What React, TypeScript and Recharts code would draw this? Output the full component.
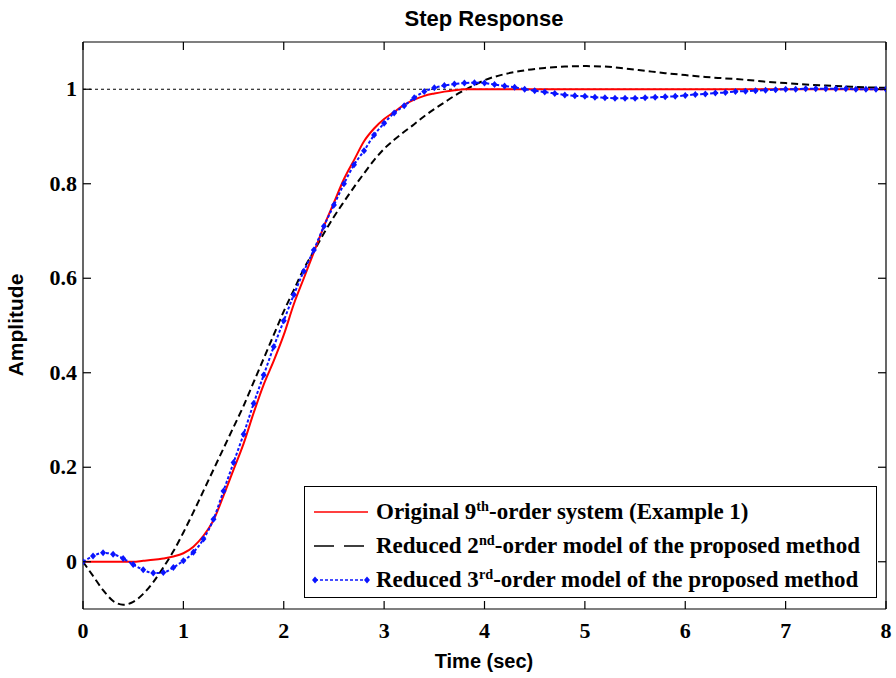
import { LineChart, Line, XAxis, YAxis, ReferenceLine, Label } from "recharts";

// axis ticks
const xTicks = [0, 1, 2, 3, 4, 5, 6, 7, 8];
const yTicks = [0, 0.2, 0.4, 0.6, 0.8, 1];

// original 9th-order system (red)
const redTime = [0, 0.5, 0.6, 0.7, 0.8, 0.9, 1.0, 1.1, 1.2, 1.3, 1.4, 1.5, 1.6, 1.7, 1.8, 1.9, 2.0, 2.1, 2.2, 2.3, 2.4, 2.5, 2.6, 2.7, 2.8, 2.9, 3.0, 3.1, 3.2, 3.3, 3.4, 3.5, 3.6, 3.7, 3.8, 4.0, 5.0, 6.0, 7.0, 8.0];
const redValue = [0, 0, 0.002, 0.004, 0.007, 0.011, 0.018, 0.032, 0.055, 0.088, 0.14, 0.195, 0.25, 0.315, 0.375, 0.425, 0.48, 0.545, 0.6, 0.655, 0.71, 0.76, 0.81, 0.85, 0.89, 0.917, 0.937, 0.952, 0.967, 0.978, 0.986, 0.991, 0.995, 0.998, 1.0, 1.0, 1.0, 1.0, 1.0, 1.0];

// reduced 2nd-order model (black dashed)
const blackTime = [0, 0.1, 0.2, 0.3, 0.4, 0.5, 0.6, 0.7, 0.8, 0.9, 1.0, 1.1, 1.2, 1.3, 1.4, 1.5, 1.6, 1.7, 1.8, 1.9, 2.0, 2.1, 2.2, 2.3, 2.4, 2.5, 2.6, 2.7, 2.8, 2.9, 3.0, 3.1, 3.2, 3.3, 3.4, 3.5, 3.6, 3.7, 3.8, 3.9, 4.0, 4.2, 4.4, 4.6, 4.8, 5.0, 5.2, 5.4, 5.6, 5.8, 6.0, 6.2, 6.4, 6.6, 6.8, 7.0, 7.2, 7.4, 7.6, 7.8, 8.0];
const blackValue = [0, -0.03, -0.06, -0.083, -0.091, -0.085, -0.068, -0.043, -0.012, 0.022, 0.062, 0.105, 0.15, 0.195, 0.24, 0.285, 0.33, 0.38, 0.43, 0.48, 0.53, 0.575, 0.62, 0.657, 0.695, 0.73, 0.762, 0.793, 0.822, 0.85, 0.874, 0.893, 0.91, 0.926, 0.943, 0.958, 0.972, 0.986, 0.998, 1.009, 1.019, 1.032, 1.04, 1.045, 1.048, 1.049, 1.048, 1.044, 1.039, 1.034, 1.03, 1.026, 1.023, 1.02, 1.016, 1.013, 1.01, 1.008, 1.006, 1.004, 1.003];

// reduced 3rd-order model (blue dotted with markers)
const blueTime = [0, 0.1, 0.2, 0.3, 0.4, 0.5, 0.6, 0.7, 0.8, 0.9, 1.0, 1.1, 1.2, 1.3, 1.4, 1.5, 1.6, 1.7, 1.8, 1.9, 2.0, 2.1, 2.2, 2.3, 2.4, 2.5, 2.6, 2.7, 2.8, 2.9, 3.0, 3.1, 3.2, 3.3, 3.4, 3.5, 3.6, 3.7, 3.8, 3.9, 4.0, 4.1, 4.2, 4.3, 4.4, 4.5, 4.6, 4.7, 4.8, 4.9, 5.0, 5.1, 5.2, 5.3, 5.4, 5.5, 5.6, 5.7, 5.8, 5.9, 6.0, 6.1, 6.2, 6.3, 6.4, 6.5, 6.6, 6.7, 6.8, 6.9, 7.0, 7.1, 7.2, 7.3, 7.4, 7.5, 7.6, 7.7, 7.8, 7.9, 8.0];
const blueValue = [0, 0.012, 0.019, 0.016, 0.007, -0.006, -0.017, -0.024, -0.023, -0.012, 0.002, 0.02, 0.048, 0.09, 0.15, 0.21, 0.27, 0.335, 0.395, 0.455, 0.51, 0.565, 0.615, 0.66, 0.71, 0.755, 0.8, 0.84, 0.87, 0.903, 0.928, 0.95, 0.965, 0.982, 0.995, 1.003, 1.008, 1.011, 1.013, 1.014, 1.013, 1.01, 1.007, 1.004, 1.0, 0.997, 0.994, 0.991, 0.988, 0.986, 0.985, 0.983, 0.982, 0.981, 0.981, 0.981, 0.982, 0.983, 0.984, 0.985, 0.987, 0.989, 0.99, 0.992, 0.993, 0.995, 0.996, 0.997, 0.998, 0.999, 1.0, 1.0, 1.001, 1.001, 1.001, 1.001, 1.001, 1.0, 1.0, 1.0, 1.0];

const redData = redTime.map((t, i) => ({ t, v: redValue[i] }));
const blackData = blackTime.map((t, i) => ({ t, v: blackValue[i] }));
const blueData = blueTime.map((t, i) => ({ t, v: blueValue[i] }));

const SERIF = "'Liberation Serif', 'Times New Roman', serif";
const SANS = "'Liberation Sans', Arial, sans-serif";
const BLUE = "#0a14ff";

// plot box size (chart size minus margins/axes), used for mirrored inner ticks
const PLOT_W = 803;
const PLOT_H = 567;

const fmt = (v: number) => String(Number(v.toFixed(1)));

function BottomTick(props: any) {
  const { x, y, payload } = props;
  return (
    <g>
      <line x1={x} y1={y} x2={x} y2={y - 8} stroke="#000" strokeWidth={1.2} />
      <line x1={x} y1={y - PLOT_H} x2={x} y2={y - PLOT_H + 8} stroke="#000" strokeWidth={1.2} />
      <text x={x} y={y + 29} textAnchor="middle" fontFamily={SERIF} fontWeight="bold" fontSize={22} fill="#000">
        {fmt(payload.value)}
      </text>
    </g>
  );
}

function LeftTick(props: any) {
  const { x, y, payload } = props;
  return (
    <g>
      <line x1={x} y1={y} x2={x + 8} y2={y} stroke="#000" strokeWidth={1.2} />
      <line x1={x + PLOT_W} y1={y} x2={x + PLOT_W - 8} y2={y} stroke="#000" strokeWidth={1.2} />
      <text x={x - 6} y={y + 7} textAnchor="end" fontFamily={SERIF} fontWeight="bold" fontSize={22} fill="#000">
        {fmt(payload.value)}
      </text>
    </g>
  );
}

function Diamond(props: any) {
  const { cx, cy, index } = props;
  if (cx == null || cy == null) return <g key={`d-${index}`} />;
  return <path key={`d-${index}`} d={`M${cx},${cy - 3.5}L${cx + 3},${cy}L${cx},${cy + 3.5}L${cx - 3},${cy}Z`} fill={BLUE} />;
}

const legendRows = [
  { kind: "red", pre: "Original 9", sup: "th", post: "-order system (Example 1)" },
  { kind: "black", pre: "Reduced 2", sup: "nd", post: "-order model of the proposed method" },
  { kind: "blue", pre: "Reduced 3", sup: "rd", post: "-order model of the proposed method" },
];

function Sample({ kind }: { kind: string }) {
  return (
    <svg width={58} height={14} style={{ display: "block", flex: "none" }}>
      {kind === "red" && <line x1={2} y1={7} x2={56} y2={7} stroke="#ff0000" strokeWidth={1.5} />}
      {kind === "black" && <line x1={2} y1={7} x2={56} y2={7} stroke="#000" strokeWidth={1.5} strokeDasharray="20 10" />}
      {kind === "blue" && (
        <g>
          <line x1={3} y1={7} x2={55} y2={7} stroke={BLUE} strokeWidth={1.5} strokeDasharray="3 2" />
          <path d="M3,3.5L6,7L3,10.5L0,7Z" fill={BLUE} />
          <path d="M55,3.5L58,7L55,10.5L52,7Z" fill={BLUE} />
        </g>
      )}
    </svg>
  );
}

function LegendBox() {
  return (
    <div
      style={{
        position: "absolute",
        left: 304,
        top: 486,
        width: 573,
        height: 112,
        boxSizing: "border-box",
        border: "1.5px solid #000",
        background: "#fff",
        paddingTop: 8,
        paddingLeft: 7,
      }}
    >
      {legendRows.map((row) => (
        <div key={row.kind} style={{ display: "flex", alignItems: "center", height: 34 }}>
          <Sample kind={row.kind} />
          <span
            style={{
              marginLeft: 6,
              fontFamily: SERIF,
              fontWeight: "bold",
              fontSize: 23,
              whiteSpace: "nowrap",
              color: "#000",
              lineHeight: "34px",
            }}
          >
            {row.pre}
            <sup style={{ fontSize: "0.62em", verticalAlign: "0.55em", lineHeight: 0 }}>{row.sup}</sup>
            {row.post}
          </span>
        </div>
      ))}
    </div>
  );
}

export default function App() {
  return (
    <div style={{ position: "absolute", left: 0, top: 0, width: 896, height: 678, background: "#fff" }}>
      <LineChart width={896} height={678} data={blueData} margin={{ top: 42, right: 10, bottom: 0, left: 0 }}>
        <XAxis
          dataKey="t"
          type="number"
          domain={[0, 8]}
          ticks={xTicks}
          allowDataOverflow
          height={69}
          stroke="#000"
          strokeWidth={1.2}
          tickLine={false}
          tickSize={0}
          tickMargin={0}
          tick={<BottomTick />}
          interval={0}
        >
          <Label
            content={() => (
              <text x={484} y={668} textAnchor="middle" fontFamily={SANS} fontWeight="bold" fontSize={20} fill="#000">
                Time (sec)
              </text>
            )}
          />
        </XAxis>
        <YAxis
          type="number"
          domain={[-0.1, 1.1]}
          ticks={yTicks}
          allowDataOverflow
          width={83}
          stroke="#000"
          strokeWidth={1.2}
          tickLine={false}
          tickSize={0}
          tickMargin={0}
          tick={<LeftTick />}
          interval={0}
        >
          <Label
            content={() => (
              <g>
                <text
                  x={23}
                  y={325}
                  transform="rotate(-90 23 325)"
                  textAnchor="middle"
                  fontFamily={SANS}
                  fontWeight="bold"
                  fontSize={21}
                  fill="#000"
                >
                  Amplitude
                </text>
                <text x={484} y={26} textAnchor="middle" fontFamily={SANS} fontWeight="bold" fontSize={22} fill="#000">
                  Step Response
                </text>
              </g>
            )}
          />
        </YAxis>
        <ReferenceLine y={1.1} stroke="#000" strokeWidth={1.2} />
        <ReferenceLine x={8} stroke="#000" strokeWidth={1.2} />
        <ReferenceLine y={1} stroke="#000" strokeWidth={1} strokeDasharray="3 3" />
        <Line
          data={blackData}
          dataKey="v"
          type="monotone"
          stroke="#000"
          strokeWidth={2}
          strokeDasharray="7 4"
          dot={false}
          isAnimationActive={false}
        />
        <Line
          data={redData}
          dataKey="v"
          type="monotone"
          stroke="#ff0000"
          strokeWidth={2}
          dot={false}
          isAnimationActive={false}
        />
        <Line
          data={blueData}
          dataKey="v"
          type="monotone"
          stroke={BLUE}
          strokeWidth={2}
          strokeDasharray="3 2"
          dot={Diamond}
          isAnimationActive={false}
        />
      </LineChart>
      <LegendBox />
    </div>
  );
}
